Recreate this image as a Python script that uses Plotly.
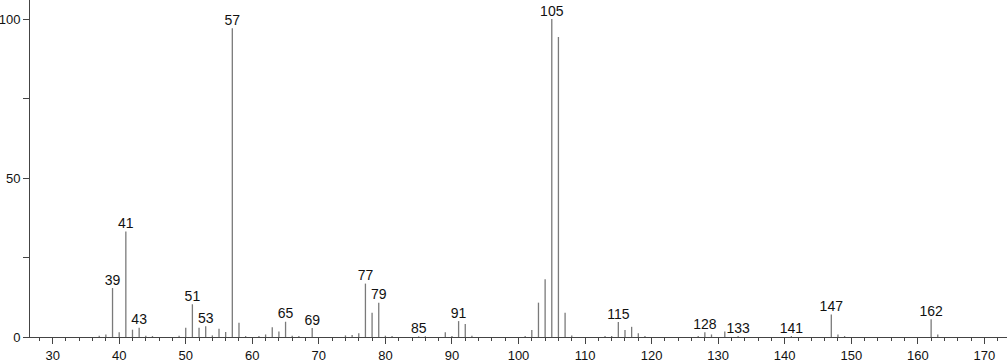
import plotly.graph_objects as go

mz = [37, 38, 39, 40, 41, 42, 43, 44, 45, 49, 50, 51, 52, 53, 54, 55, 56, 57, 58, 59,
      61, 62, 63, 64, 65, 66, 67, 69, 74, 75, 76, 77, 78, 79, 80, 81, 85, 86, 89, 90,
      91, 92, 93, 101, 102, 103, 104, 105, 106, 107, 108, 113, 114, 115, 116, 117, 118,
      119, 127, 128, 129, 131, 133, 141, 147, 148, 149, 162, 163]
intensity = [0.4, 0.8, 15.4, 1.5, 33.2, 2.3, 2.9, 0.4, 0.3, 0.4, 2.9, 10.3, 2.9, 3.4, 0.5,
             2.6, 1.6, 97.1, 4.5, 0.3, 0.3, 0.8, 3.1, 1.7, 4.8, 0.4, 0.3, 2.8, 0.5, 0.6,
             1.2, 16.8, 7.6, 10.8, 0.4, 0.3, 0.2, 0.2, 1.5, 0.3, 5.0, 4.1, 0.4, 0.3, 2.2,
             10.8, 18.2, 100.0, 94.4, 7.6, 0.5, 0.3, 0.3, 4.7, 2.2, 3.2, 1.2, 0.3, 0.3,
             1.5, 0.8, 1.7, 0.3, 0.3, 7.1, 0.8, 0.3, 5.6, 0.8]
labeled = [39, 41, 43, 51, 53, 57, 65, 69, 77, 79, 85, 91, 105, 115, 128, 133, 141, 147, 162]

x_ticks = list(range(30, 171, 10))
y_ticks = [0, 50, 100]

lx, ly = [], []
for m, v in zip(mz, intensity):
    lx += [m, m, None]
    ly += [0, v, None]

val = dict(zip(mz, intensity))
tx = labeled
ty = [val[m] for m in labeled]

fig = go.Figure()
fig.add_trace(go.Scatter(x=lx, y=ly, mode="lines",
                         line=dict(color="#7a7a7a", width=1.3),
                         hoverinfo="skip", showlegend=False))
fig.add_trace(go.Scatter(x=tx, y=ty, mode="text", text=[str(m) for m in tx],
                         textposition="top center",
                         textfont=dict(family="Liberation Sans, Arial, sans-serif",
                                       size=14, color="#111111"),
                         showlegend=False))

fig.update_layout(
    width=1007, height=362,
    margin=dict(l=30, r=0, t=0, b=25),
    paper_bgcolor="white", plot_bgcolor="white",
    font=dict(family="Liberation Sans, Arial, sans-serif", size=14, color="#111111"),
    xaxis=dict(range=[26.6, 173.4], tickvals=x_ticks, ticktext=[str(v) for v in x_ticks],
               showgrid=False, zeroline=False, showline=True, linecolor="#444444",
               linewidth=1, ticks="outside", ticklen=6, tickcolor="#444444",
               minor=dict(dtick=2, tick0=0, ticks="outside", ticklen=3,
                          tickcolor="#444444", showgrid=False),
               tickfont=dict(size=13)),
    yaxis=dict(range=[0, 106], tickvals=y_ticks, ticktext=[str(v) for v in y_ticks],
               showgrid=False, zeroline=False, showline=True, linecolor="#444444",
               linewidth=1, ticks="outside", ticklen=6, tickcolor="#444444",
               minor=dict(tickvals=[25, 75], ticks="outside", ticklen=6,
                          tickcolor="#444444", showgrid=False),
               tickfont=dict(size=13)),
)

fig.write_html("out.html")
